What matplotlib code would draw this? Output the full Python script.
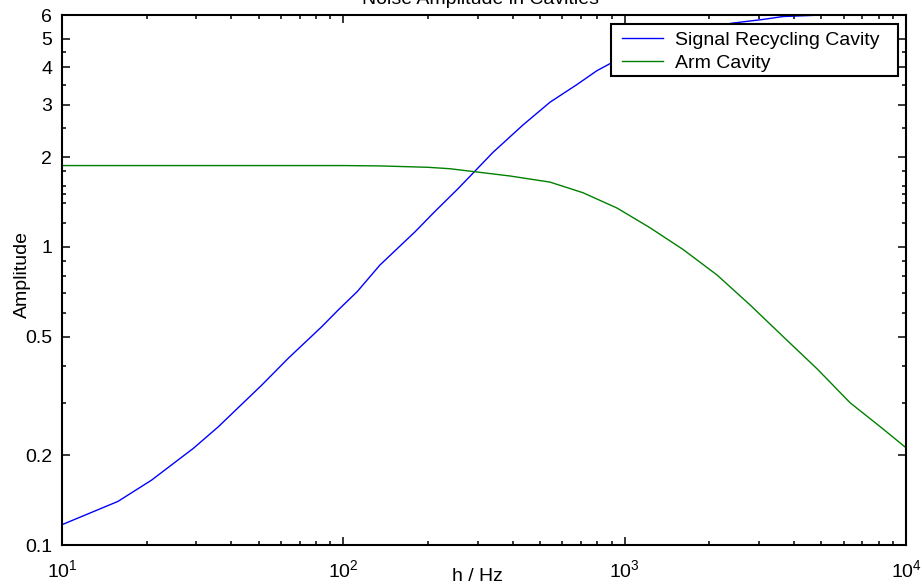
import matplotlib
matplotlib.use("Agg")
import matplotlib.pyplot as plt
from matplotlib.patches import Rectangle
from matplotlib.ticker import FixedLocator, FixedFormatter, LogLocator, NullFormatter

plt.rcParams["font.family"] = ["Liberation Sans", "DejaVu Sans"]
plt.rcParams["mathtext.default"] = "regular"

# Signal recycling cavity amplitude vs frequency
freq_src = [10, 15.8, 20.8, 29.3, 35.9, 51.3, 63.7, 83.8, 96, 112, 135, 180, 209,
            256, 341, 436, 543, 675, 796, 887, 1200, 1600, 2400, 3110, 3660, 5070, 10000]
amp_src = [0.117, 0.140, 0.165, 0.211, 0.249, 0.344, 0.423, 0.540, 0.615, 0.708, 0.870,
           1.125, 1.30, 1.57, 2.08, 2.57, 3.06, 3.50, 3.90, 4.12, 4.75, 5.2, 5.63, 5.80,
           5.93, 6.0, 6.0]

# Arm cavity amplitude vs frequency
freq_arm = [10, 50, 100, 135, 200, 239, 391, 543, 711, 940, 1230, 1614, 2130, 2790,
            3660, 4830, 6330, 8290, 10000]
amp_arm = [1.875, 1.875, 1.875, 1.87, 1.85, 1.83, 1.73, 1.65, 1.52, 1.35, 1.16, 0.98,
           0.805, 0.639, 0.50, 0.39, 0.30, 0.245, 0.212]

series_labels = ["Signal Recycling Cavity", "Arm Cavity"]
title_text = "Noise Amplitude in Cavities"
x_label = "h / Hz"
y_label = "Amplitude"

x_ticks = [10, 100, 1000, 10000]
x_tick_labels = [r"$10^{1}$", r"$10^{2}$", r"$10^{3}$", r"$10^{4}$"]
y_ticks = [0.1, 0.2, 0.5, 1, 2, 3, 4, 5, 6]
y_tick_labels = ["0.1", "0.2", "0.5", "1", "2", "3", "4", "5", "6"]
y_minor_ticks = [0.3, 0.4, 0.6, 0.7, 0.8, 0.9, 1.2, 1.4, 1.5, 1.6, 1.8, 2.5, 3.5, 4.5]

W, H = 922, 586
fig = plt.figure(figsize=(W / 100, H / 100), dpi=100)
ax = fig.add_axes([62 / W, 41 / H, 844 / W, 530 / H])

ax.plot(freq_src, amp_src, color="#0000ff", lw=1.0, label=series_labels[0])
ax.plot(freq_arm, amp_arm, color="#008000", lw=1.0, label=series_labels[1])

ax.set_xscale("log")
ax.set_yscale("log")
ax.set_xlim(10, 10000)
ax.set_ylim(0.1, 6)

ax.xaxis.set_major_locator(FixedLocator(x_ticks))
ax.xaxis.set_major_formatter(FixedFormatter(x_tick_labels))
ax.xaxis.set_minor_locator(LogLocator(base=10, subs=range(2, 10)))
ax.xaxis.set_minor_formatter(NullFormatter())
ax.yaxis.set_major_locator(FixedLocator(y_ticks))
ax.yaxis.set_major_formatter(FixedFormatter(y_tick_labels))
ax.yaxis.set_minor_locator(FixedLocator(y_minor_ticks))
ax.yaxis.set_minor_formatter(NullFormatter())

ax.tick_params(which="both", direction="in", top=True, right=True,
               width=1.1, colors="black", labelsize=14)
ax.tick_params(which="major", length=6)
ax.tick_params(axis="x", which="major", pad=10)
ax.tick_params(axis="y", which="major", pad=7)
ax.tick_params(which="minor", length=3)
for s in ax.spines.values():
    s.set_linewidth(1.5)
    s.set_color("black")

ax.set_xlabel(x_label, fontsize=14)
ax.xaxis.set_label_coords(0.492, -0.044)
ax.set_ylabel(y_label, fontsize=14)
ax.yaxis.set_label_coords(-0.037, 0.51)

fig.text(480 / W, 1 - 4.5 / H, title_text, ha="center", va="baseline", fontsize=14)

# Legend box drawn as a plain framed rectangle, entries placed inside it
box = Rectangle((611 / W, 1 - 76 / H), 287 / W, 52 / H, transform=fig.transFigure,
                facecolor="white", edgecolor="black", linewidth=1.5, zorder=4,
                clip_on=False)
ax.add_artist(box)
leg = ax.legend(loc="upper left", bbox_to_anchor=(622 / W, 1 - 31 / H),
                bbox_transform=fig.transFigure, borderaxespad=0, borderpad=0,
                fontsize=14, frameon=False, handlelength=2.1, handletextpad=0.6,
                labelspacing=0.3)
leg.set_zorder(5)

fig.savefig("out.png", dpi=100)
